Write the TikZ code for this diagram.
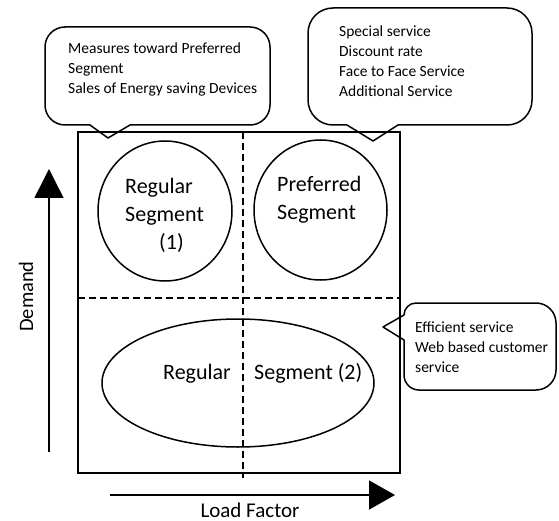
\documentclass[tikz,border=0pt]{standalone}
\usepackage{fontspec}
\setmainfont{Carlito}
\usetikzlibrary{arrows.meta,shapes.geometric}
\begin{document}
\begin{tikzpicture}[x=1pt,y=-1pt,
  solidline/.style={line width=1.5pt},
  dashedline/.style={line width=1.5pt, dash pattern=on 7pt off 4pt},
  seg/.style={draw, ellipse, line width=1.5pt, inner sep=0pt},
  big/.style={font=\fontsize{22}{26}\selectfont, inner sep=0pt, anchor=base west},
  small/.style={font=\fontsize{15.5}{20}\selectfont, inner sep=0pt, anchor=base west},
  callout/.style={line width=1.5pt, line join=round}
]
\useasboundingbox (0,0) rectangle (559,521);

% main box
\node[draw, line width=1.5pt, minimum width=322pt, minimum height=341pt, inner sep=0pt] (box) at (239,302.5) {};
\coordinate (vtop) at (243,132);
\coordinate (vbot) at (243,478);
\coordinate (hleft) at (78,298);
\coordinate (hright) at (400,298);
\draw[dashedline] (vtop) -- (vbot);
\draw[dashedline] (hleft) -- (hright);

% segments
\node[seg, minimum width=134pt, minimum height=140pt] (reg1) at (165,211) {};
\node[seg, minimum width=133pt, minimum height=140pt] (pref) at (320.5,210) {};
\node[seg, minimum width=272pt, minimum height=128pt] (reg2) at (238,383) {};

\node[big] (r1a) at (125,194) {Regular};
\node[big] (r1b) at (125,222) {Segment};
\node[big] (r1c) at (159,250) {(1)};
\node[big] (p1) at (277,191.5) {Preferred};
\node[big] (p2) at (277,220) {Segment};
\node[big] (r2a) at (163,379) {Regular};
\node[big] (r2b) at (254,379) {Segment (2)};

% axes
\coordinate (dA) at (49,452);
\coordinate (dB) at (49,169);
\draw[solidline, -{Triangle[length=29pt,width=29pt]}] (dA) -- (dB);
\coordinate (lA) at (110,495);
\coordinate (lB) at (395,495);
\draw[solidline, -{Triangle[length=26pt,width=29pt]}] (lA) -- (lB);
\node[font=\fontsize{21}{24}\selectfont, inner sep=0pt, anchor=base] (lf) at (250,517) {Load Factor};
\node[font=\fontsize{20.5}{24}\selectfont, inner sep=0pt, rotate=90, anchor=base west] (dem) at (33,332) {Demand};

% callout 1
\draw[callout] (108,138) -- (130,125) -- (250,125) arc[start angle=90,end angle=0,radius=20]
  -- (270,47) arc[start angle=0,end angle=-90,radius=20]
  -- (65,27) arc[start angle=-90,end angle=-180,radius=20]
  -- (45,105) arc[start angle=180,end angle=90,radius=20]
  -- (90,125) -- cycle;
\node[small] (c1a) at (68,54) {Measures toward Preferred};
\node[small] (c1b) at (68,74) {Segment};
\node[small] (c1c) at (68,94) {Sales of Energy saving Devices};

% callout 2
\draw[callout] (373,141) -- (398,125) -- (507,125) arc[start angle=90,end angle=0,radius=25]
  -- (532,33) arc[start angle=0,end angle=-90,radius=25]
  -- (333,8) arc[start angle=-90,end angle=-180,radius=25]
  -- (308,100) arc[start angle=180,end angle=90,radius=25]
  -- (347,125) -- cycle;
\node[small] (c2a) at (339,37) {Special service};
\node[small] (c2b) at (339,57) {Discount rate};
\node[small] (c2c) at (339,77) {Face to Face Service};
\node[small] (c2d) at (339,97) {Additional Service};

% callout 3
\draw[callout] (383,327) -- (404,340) -- (404,375) arc[start angle=180,end angle=90,radius=15]
  -- (536,390) arc[start angle=90,end angle=0,radius=20]
  -- (556,323) arc[start angle=0,end angle=-90,radius=20]
  -- (416,303) arc[start angle=-90,end angle=-180,radius=12]
  -- (404,315) -- cycle;
\node[small] (c3a) at (415,332) {Efficient service};
\node[small] (c3b) at (415,352) {Web based customer};
\node[small] (c3c) at (415,372) {service};
\end{tikzpicture}
\end{document}
